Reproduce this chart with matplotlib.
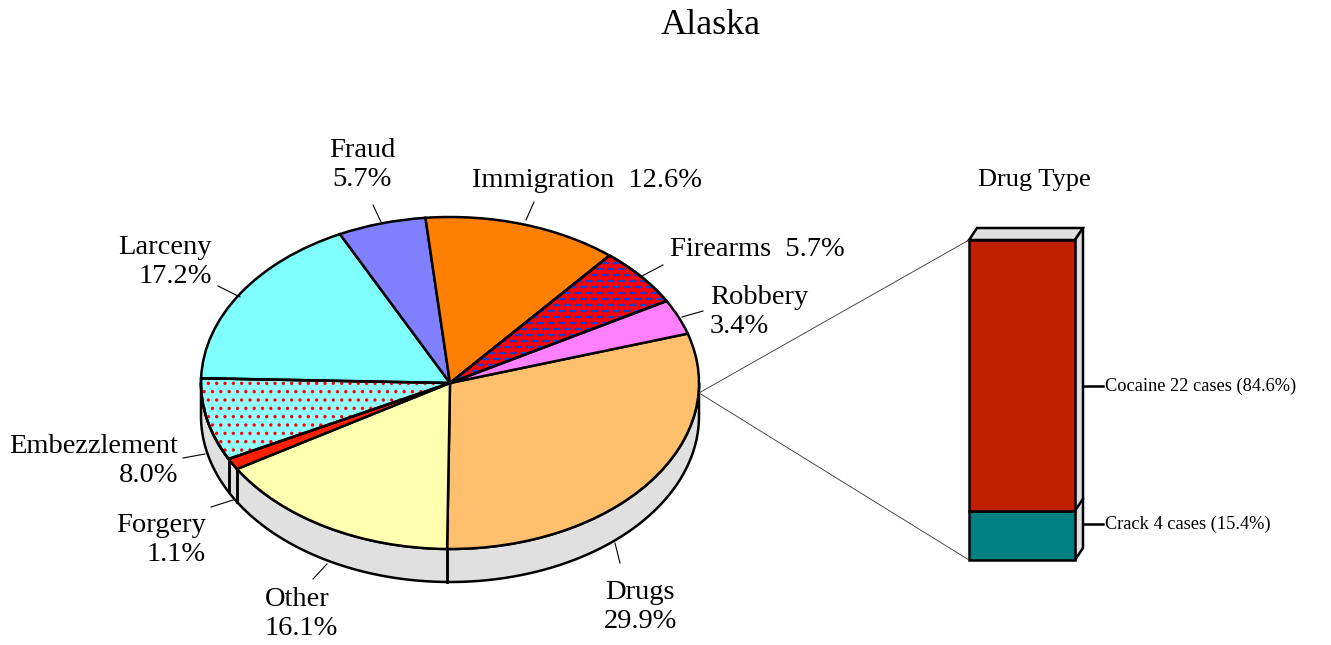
import numpy as np
import matplotlib.pyplot as plt
from matplotlib.patches import Wedge, Polygon, ConnectionPatch
from matplotlib.lines import Line2D

plt.rcParams['font.family'] = ['Liberation Serif', 'DejaVu Serif']
plt.rcParams['hatch.linewidth'] = 1.2

# data
offenses = ['Drugs', 'Other', 'Forgery', 'Embezzlement', 'Larceny',
            'Fraud', 'Immigration', 'Firearms', 'Robbery']
shares = [29.9, 16.1, 1.1, 8.0, 17.2, 5.7, 12.6, 5.7, 3.4]
slice_colors = ['#FFC06E', '#FFFFB0', '#FF2000', '#90FFFF', '#80FFFF',
                '#8080FF', '#FF8000', '#FF0000', '#FF80FF']

drug_types = ['Crack', 'Cocaine']
drug_cases = [4, 22]
drug_pct = [15.4, 84.6]
drug_colors = ['#008080', '#C02000']

W, H = 1331, 645
fig = plt.figure(figsize=(W / 100, H / 100), dpi=100)
LW = 1.8


def fx(x):
    return x / W


def fy(y):
    return 1 - y / H


def box(x0, y0, x1, y1):
    return [fx(x0), fy(y1), (x1 - x0) / W, (y1 - y0) / H]


fig.text(fx(711), fy(26), 'Alaska', fontsize=26, ha='center', va='center')

# pie (ellipse: center 450,383 px, radii 249 x 166 px)
cx, cy, rx, ry = 450, 383, 249, 166
xl, yl = (-1.3, 1.3), (-1.5, 1.3)
ax = fig.add_axes(box(cx + rx * xl[0], cy - ry * yl[1], cx + rx * xl[1], cy - ry * yl[0]))
wedges, _ = ax.pie(shares, colors=slice_colors, startangle=17.3, counterclock=False,
                   wedgeprops=dict(edgecolor='black', linewidth=LW, zorder=3))
ax.set_aspect('auto')
ax.set_xlim(xl)
ax.set_ylim(yl)
ax.axis('off')

# side of the disc
depth = 33 / ry
t = np.linspace(np.pi, 2 * np.pi, 300)
side = np.concatenate([np.c_[np.cos(t), np.sin(t)],
                       np.c_[np.cos(t[::-1]), np.sin(t[::-1]) - depth]])
ax.add_patch(Polygon(side, closed=True, fc='#E0E0E0', ec='black', lw=LW, zorder=1))
for w in wedges:
    for th in (w.theta1, w.theta2):
        a = np.deg2rad(th) % (2 * np.pi)
        if np.pi + 1e-3 < a < 2 * np.pi - 1e-3:
            ax.plot([np.cos(a)] * 2, [np.sin(a), np.sin(a) - depth],
                    color='black', lw=LW, zorder=2)

# Firearms: blue dashes on red
fw = wedges[offenses.index('Firearms')]
for i, yv in enumerate(np.arange(0.0, 0.75, 6 / ry)):
    ln, = ax.plot([0, 1.05], [yv, yv], color='#1E3CC8', lw=1.7,
                  linestyle=((i % 2) * 2.3, (3, 1.6)), zorder=4)
    ln.set_clip_path(fw)

# Embezzlement: red dots on cyan
ew = wedges[offenses.index('Embezzlement')]
ax.add_patch(Wedge(ew.center, ew.r, ew.theta1, ew.theta2, fc='none',
                   ec='red', lw=0, hatch='..', zorder=4))

for w in (fw, ew):
    ax.add_patch(Wedge(w.center, w.r, w.theta1, w.theta2, fc='none',
                       ec='black', lw=LW, zorder=5))

# labels: (text x px, center y px, ha, leader line)
label_pos = {
    'Fraud': (362, 165, 'center', (373, 205, 381, 222)),
    'Immigration': (472, 180, 'left', (534, 202, 526, 220)),
    'Firearms': (670, 249, 'left', (663, 265, 640, 277)),
    'Robbery': (710, 312, 'left', (703, 311, 682, 317)),
    'Larceny': (212, 262, 'right', (218, 286, 240, 297)),
    'Embezzlement': (178, 461, 'right', (183, 458, 205, 454)),
    'Forgery': (206, 540, 'right', (211, 507, 233, 500)),
    'Other': (265, 614, 'left', (313, 579, 327, 564)),
    'Drugs': (640, 607, 'center', (615, 543, 620, 563)),
}
for name, share in zip(offenses, shares):
    x, y, ha, ld = label_pos[name]
    if name in ('Immigration', 'Firearms'):
        txt = f'{name}  {share}%'
    else:
        txt = f'{name}\n{share}%'
    fig.text(fx(x), fy(y), txt, fontsize=20.5, ha=ha, va='center', linespacing=1.18)
    fig.add_artist(Line2D([fx(ld[0]), fx(ld[2])], [fy(ld[1]), fy(ld[3])],
                          transform=fig.transFigure, color='black', lw=0.8))

# bar of drug types
bx0, by0, bx1, by1 = 969, 240, 1075, 560
bax = fig.add_axes(box(bx0, by0, bx1, by1))
total = sum(drug_cases)
bax.set_xlim(0, 1)
bax.set_ylim(0, total)
bax.axis('off')
dx = 8 / (bx1 - bx0)
dy = 12 / (by1 - by0) * total
bottom = 0
for c, col in zip(drug_cases, drug_colors):
    bax.bar(0.5, c, width=1, bottom=bottom, color=col, edgecolor='black',
            lw=LW, clip_on=False, zorder=3)
    bottom += c
bax.add_patch(Polygon([(0, total), (dx, total + dy), (1 + dx, total + dy), (1, total)],
                      closed=True, fc='#E0E0E0', ec='black', lw=LW, clip_on=False, zorder=2))
bax.add_patch(Polygon([(1, 0), (1 + dx, dy), (1 + dx, total + dy), (1, total)],
                      closed=True, fc='#E0E0E0', ec='black', lw=LW, clip_on=False, zorder=2))
bax.plot([1, 1 + dx], [drug_cases[0], drug_cases[0] + dy], color='black', lw=LW,
         clip_on=False, zorder=2)

fig.text(fx(1034), fy(180), 'Drug Type', fontsize=19, ha='center', va='center')

bar_label_y = [524, 386]
for name, c, p, y in zip(drug_types, drug_cases, drug_pct, bar_label_y):
    fig.add_artist(Line2D([fx(1083), fx(1103)], [fy(y), fy(y)],
                          transform=fig.transFigure, color='black', lw=1.8))
    fig.text(fx(1105), fy(y), f'{name} {c} cases ({p}%)', fontsize=13.2,
             ha='left', va='center')

# connector lines from pie to bar
for yb in (total, 0):
    fig.add_artist(ConnectionPatch(xyA=(1.0, -0.06), coordsA=ax.transData,
                                   xyB=(0, yb), coordsB=bax.transData,
                                   color='#333333', lw=0.6))

fig.savefig('out.png', dpi=100)
